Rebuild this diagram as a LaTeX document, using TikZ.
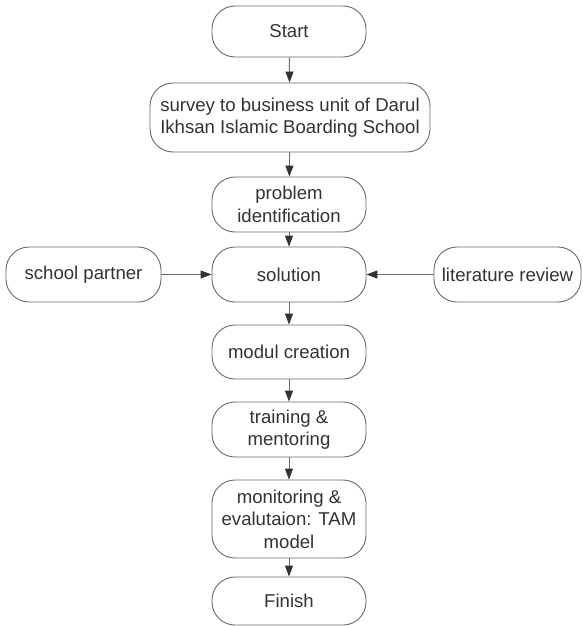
\documentclass[tikz,border=0pt]{standalone}
\usepackage{fontspec}
\setmainfont{Liberation Sans}
\usetikzlibrary{arrows.meta}
\definecolor{edge}{HTML}{6A6A6A}
\definecolor{ink}{HTML}{333333}
\definecolor{tip}{HTML}{333333}
\begin{document}
\begin{tikzpicture}[x=1pt,y=-1pt,
  box/.style={draw=edge, line width=0.9pt, fill=white, rounded corners=23pt,
    inner sep=0pt, align=center, text=ink,
    font=\fontsize{18.6}{22.5}\selectfont},
  conn/.style={draw=edge, line width=0.9pt,
    -{Triangle[length=11pt,width=8pt,fill=tip,color=tip]}}]
\useasboundingbox (0,0) rectangle (582,626);
\node[box, minimum width=154pt, minimum height=51pt] (start) at (289,31.5) {Start};
\node[box, minimum width=280pt, minimum height=69pt] (survey) at (290,117.5) {survey to business unit of Darul\\Ikhsan Islamic Boarding School};
\node[box, minimum width=154pt, minimum height=55pt] (prob) at (289,204.5) {problem\\identification};
\node[box, minimum width=154pt, minimum height=55pt] (sol) at (289,274.5) {solution};
\node[box, minimum width=155pt, minimum height=55pt] (school) at (83.5,274.5) {school partner};
\node[box, minimum width=147pt, minimum height=55pt] (lit) at (507.5,274.5) {literature review};
\node[box, minimum width=154pt, minimum height=54pt] (modul) at (289,352) {modul creation};
\node[box, minimum width=154pt, minimum height=55pt] (train) at (289,429.5) {training \&\\mentoring};
\node[box, minimum width=154pt, minimum height=78pt] (mon) at (289,519) {monitoring \&\\evalutaion: TAM\\model};
\node[box, minimum width=154pt, minimum height=48pt] (fin) at (289,601) {Finish};
\draw[conn] (start) -- (survey);
\draw[conn] (survey) -- (prob);
\draw[conn] (prob) -- (sol);
\draw[conn] (sol) -- (modul);
\draw[conn] (modul) -- (train);
\draw[conn] (train) -- (mon);
\draw[conn] (mon) -- (fin);
\draw[conn] (school) -- (sol);
\draw[conn] (lit) -- (sol);
\end{tikzpicture}
\end{document}
